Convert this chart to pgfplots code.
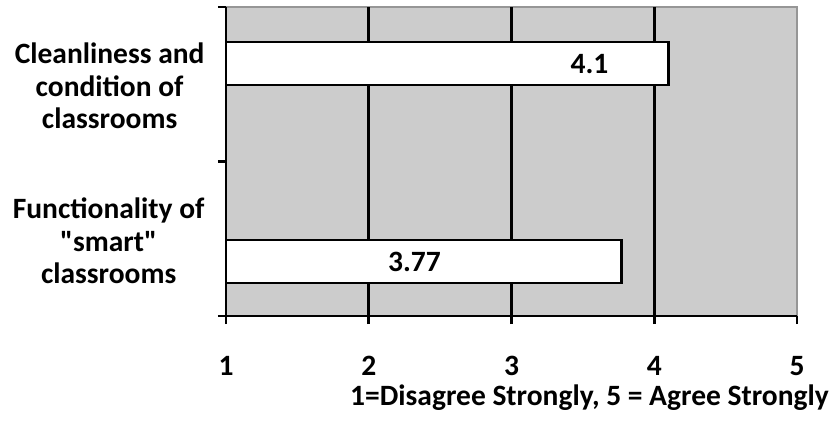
\documentclass[border=0pt]{standalone}
\usepackage{fontspec}
\setmainfont{Carlito}[Ligatures=TeXOff]
\usepackage{pgfplots}
\pgfplotsset{compat=1.18}
\definecolor{plotbg}{RGB}{204,204,204}
\definecolor{framegray}{RGB}{150,150,150}
\newcommand{\lblfont}{\fontsize{29.5}{32.5}\selectfont\bfseries}
\begin{document}
\begin{tikzpicture}
\begin{axis}[
  name=ax, at={(0pt,0pt)}, anchor=south west,
  scale only axis, width=571pt, height=309pt,
  xmin=1, xmax=5, ymin=0, ymax=2,
  axis background/.style={fill=plotbg, draw=framegray, line width=2pt},
  axis x line*=bottom, axis y line*=left,
  axis line style={-, black, line width=2.5pt},
  every outer x axis line/.append style={-},
  every outer y axis line/.append style={-},
  tick align=outside, major tick length=8pt,
  tick style={black, line width=2.5pt},
  xtick={1,2,3,4,5},
  xticklabel style={font=\lblfont, yshift=-29pt},
  /pgf/number format/assume math mode=true,
  extra x ticks={2,3,4}, extra x tick labels={},
  extra x tick style={grid=major, major tick length=0pt},
  major grid style={black, line width=2.5pt},
  ytick={0,1,2}, yticklabels={},
  extra y ticks={0.5,1.5},
  extra y tick labels={{Functionality of\\"smart"\\classrooms},{Cleanliness and\\condition of\\classrooms}},
  extra y tick style={major tick length=0pt, yticklabel style={align=center, font=\lblfont, xshift=-18pt, yshift=-2pt}},
  xlabel={1=Disagree Strongly, 5 = Agree Strongly},
  xlabel style={font=\lblfont, inner sep=0pt, at={(rel axis cs:1,0)}, anchor=east, xshift=32pt, yshift=-82pt},
  xbar, bar width=0.278, bar shift=0pt,
  nodes near coords, nodes near coords style={font=\lblfont, anchor=center},
]
\addplot[fill=white, draw=black, line width=2.5pt,
  nodes near coords style={xshift=-79pt}] coordinates {(4.1,1.634)};
\addplot[fill=white, draw=black, line width=2.5pt,
  nodes near coords style={xshift=-207pt}] coordinates {(3.77,0.353)};
\end{axis}
\pgfresetboundingbox
\path (ax.south west) ++(-226pt,-105pt) rectangle ++(835pt,421pt);
\end{tikzpicture}
\end{document}
